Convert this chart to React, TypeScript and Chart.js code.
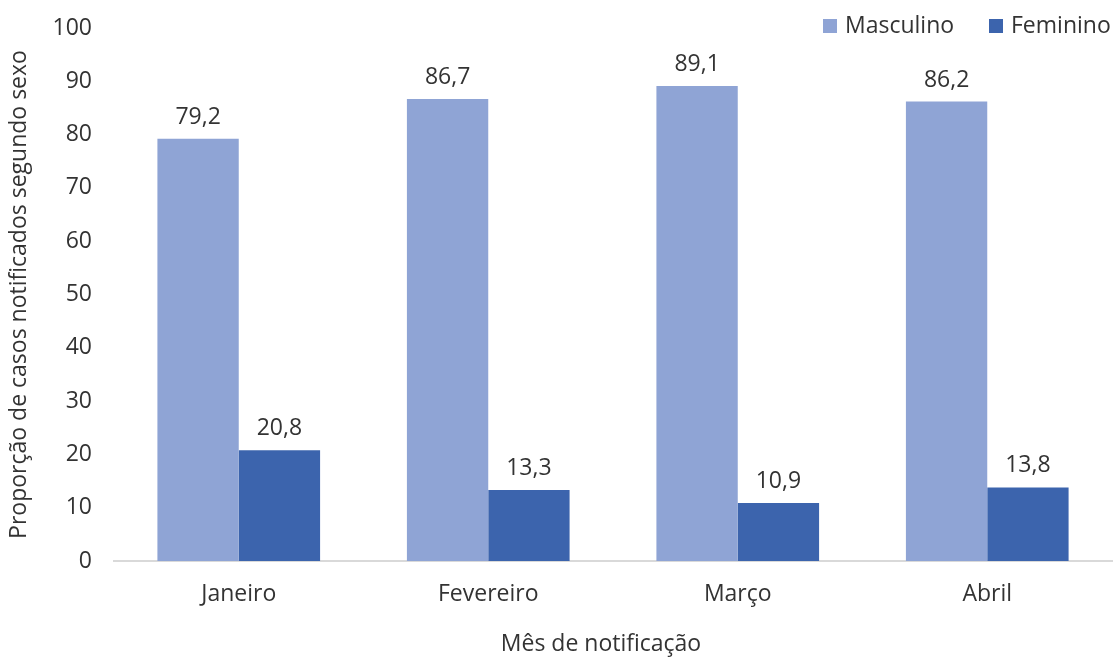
import React, { useEffect, useRef } from "react";
import { Chart, registerables } from "chart.js";

Chart.register(...registerables);

const categories = ["Janeiro", "Fevereiro", "Março", "Abril"];
const masculino = [79.2, 86.7, 89.1, 86.2];
const feminino = [20.8, 13.3, 10.9, 13.8];
const seriesNames = ["Masculino", "Feminino"];
const colors = ["#8FA4D5", "#3C64AD"];
const yTitle = "Proporção de casos notificados segundo sexo";
const xTitle = "Mês de notificação";

const FONT = "'Open Sans', sans-serif";
const FS = 23;
const TEXT = "#333333";

const dataLabels = {
  id: "dataLabels",
  afterDatasetsDraw(chart: any) {
    const ctx = chart.ctx;
    ctx.save();
    ctx.font = `${FS}px ${FONT}`;
    ctx.fillStyle = TEXT;
    ctx.textAlign = "center";
    ctx.textBaseline = "bottom";
    chart.data.datasets.forEach((ds: any, i: number) => {
      const meta = chart.getDatasetMeta(i);
      meta.data.forEach((bar: any, j: number) => {
        const v = ds.data[j];
        ctx.fillText(String(v).replace(".", ","), bar.x, bar.y - 10);
      });
    });
    ctx.restore();
  },
};

const customLegend = {
  id: "customLegend",
  afterDraw(chart: any) {
    const ctx = chart.ctx;
    ctx.save();
    ctx.font = `${FS}px ${FONT}`;
    ctx.textBaseline = "middle";
    ctx.textAlign = "left";
    const y = 26;
    const xs = [823, 989];
    chart.data.datasets.forEach((ds: any, i: number) => {
      ctx.fillStyle = ds.backgroundColor;
      ctx.fillRect(xs[i], y - 7, 14, 14);
      ctx.fillStyle = TEXT;
      ctx.fillText(ds.label, xs[i] + 22, y);
    });
    ctx.restore();
  },
};

const xTitlePlugin = {
  id: "xTitlePlugin",
  afterDraw(chart: any) {
    const ctx = chart.ctx;
    ctx.save();
    ctx.font = `${FS}px ${FONT}`;
    ctx.fillStyle = TEXT;
    ctx.textAlign = "center";
    ctx.textBaseline = "middle";
    ctx.fillText(xTitle, 601, 644);
    ctx.restore();
  },
};

export default function App() {
  const ref = useRef<HTMLCanvasElement>(null);
  useEffect(() => {
    const chart = new Chart(ref.current as HTMLCanvasElement, {
      type: "bar",
      data: {
        labels: categories,
        datasets: [
          { label: seriesNames[0], data: masculino, backgroundColor: colors[0] },
          { label: seriesNames[1], data: feminino, backgroundColor: colors[1] },
        ],
      },
      options: {
        animation: false,
        responsive: false,
        maintainAspectRatio: false,
        layout: { padding: { top: 28, right: 1, bottom: 0, left: 0 } },
        datasets: { bar: { categoryPercentage: 0.652, barPercentage: 1 } } as any,
        plugins: { legend: { display: false }, tooltip: { enabled: false } },
        scales: {
          x: {
            grid: { display: false, drawTicks: false },
            border: { display: true, color: "#D9D9D9", width: 2 },
            ticks: { color: TEXT, font: { family: FONT, size: FS }, padding: 20 },
            afterFit(scale: any) {
              scale.height = 96;
              scale.paddingLeft = 0;
              scale.paddingRight = 0;
            },
          },
          y: {
            min: 0,
            max: 100,
            ticks: { stepSize: 10, color: TEXT, font: { family: FONT, size: FS }, padding: 22 },
            grid: { display: false, drawTicks: false },
            border: { display: false },
            title: {
              display: true,
              text: yTitle,
              color: TEXT,
              font: { family: FONT, size: FS },
              padding: { top: 6, bottom: 8 },
            },
            afterFit(scale: any) {
              scale.width = 114;
              scale.paddingTop = 0;
              scale.paddingBottom = 0;
            },
          },
        },
      },
      plugins: [dataLabels, customLegend, xTitlePlugin],
    });
    return () => chart.destroy();
  }, []);
  return (
    <div style={{ position: "fixed", left: 0, top: 0, width: 1113, height: 657, background: "#fff" }}>
      <canvas ref={ref} width={1113} height={657} style={{ width: 1113, height: 657 }} />
    </div>
  );
}
